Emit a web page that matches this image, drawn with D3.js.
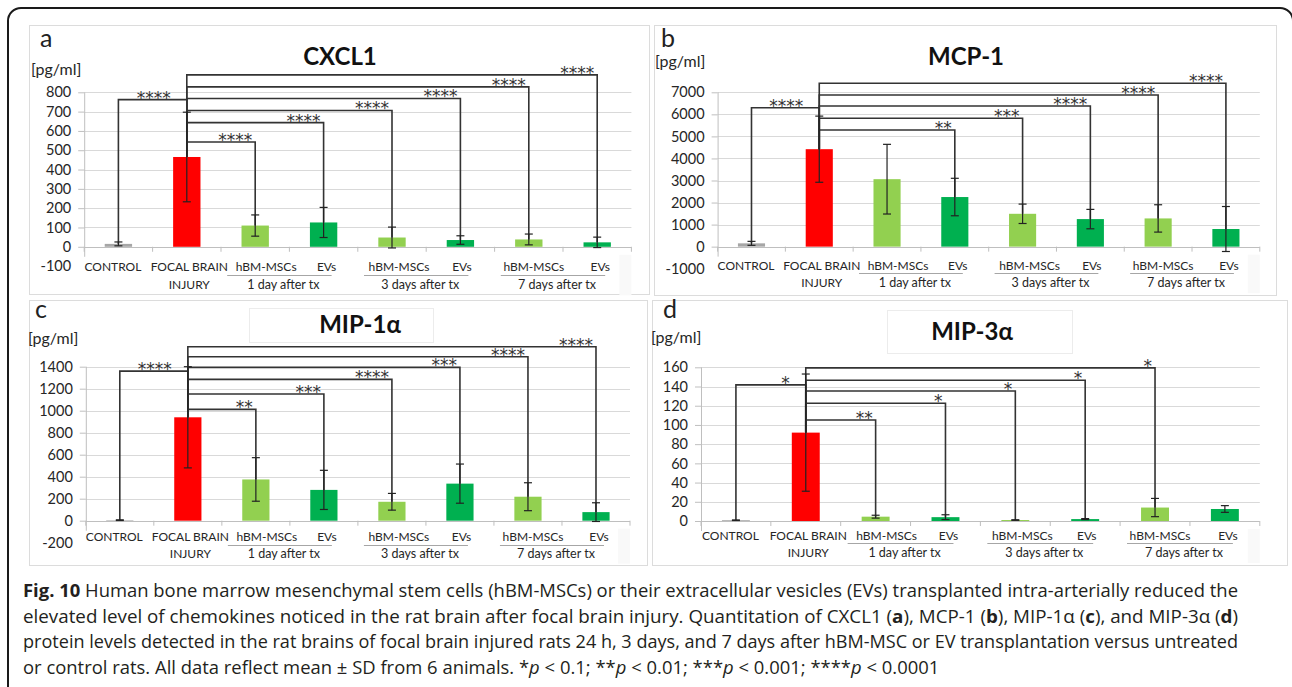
<!DOCTYPE html>
<html><head><meta charset="utf-8">
<script src="https://cdn.jsdelivr.net/npm/d3@7"></script>
<style>
body{margin:0;background:#fff}
svg{display:block}
.ch text{font-family:Lato, Carlito, sans-serif}
.ch text.star{font-family:"DejaVu Sans", sans-serif}
.cap{font-family:"Open Sans", sans-serif}
</style>
</head><body>
<svg id="c" width="1292" height="687"></svg>
<script>
// ---------- data ----------
const categoryLabels = ["CONTROL", "FOCAL BRAIN\nINJURY", "hBM-MSCs", "EVs", "hBM-MSCs", "EVs", "hBM-MSCs", "EVs"];
const groupLabels = ["1 day after tx", "3 days after tx", "7 days after tx"];
const groupMembers = [[2, 3], [4, 5], [6, 7]];

const cxcl1Ticks = [-100, 0, 100, 200, 300, 400, 500, 600, 700, 800];
const cxcl1Mean = [15, 465, 110, 126, 48, 35, 38, 23];
const cxcl1SD = [10, 232, 55, 78, 54, 22, 28, 27];
const cxcl1Targets = [0, 2, 3, 4, 5, 6, 7];
const cxcl1Heights = [762, 543, 643, 706, 768, 828, 890];
const cxcl1Stars = ["****", "****", "****", "****", "****", "****", "****"];

const mcp1Ticks = [-1000, 0, 1000, 2000, 3000, 4000, 5000, 6000, 7000];
const mcp1Mean = [150, 4420, 3060, 2250, 1490, 1250, 1280, 800];
const mcp1SD = [90, 1500, 1580, 850, 440, 440, 620, 1020];
const mcp1Targets = [0, 3, 4, 5, 6, 7];
const mcp1Heights = [6300, 5290, 5820, 6380, 6880, 7410];
const mcp1Stars = ["****", "**", "***", "****", "****", "****"];

const mip1aTicks = [-200, 0, 200, 400, 600, 800, 1000, 1200, 1400];
const mip1aMean = [5, 940, 375, 280, 172, 337, 218, 78];
const mip1aSD = [3, 460, 198, 178, 76, 178, 127, 85];
const mip1aTargets = [0, 2, 3, 4, 5, 6, 7];
const mip1aHeights = [1360, 1012, 1152, 1285, 1394, 1491, 1582];
const mip1aStars = ["****", "**", "***", "****", "***", "****", "****"];

const mip3aTicks = [0, 20, 40, 60, 80, 100, 120, 140, 160];
const mip3aMean = [0.8, 92, 4.5, 4, 1, 2, 14, 12.5];
const mip3aSD = [0.3, 61, 1.5, 2.5, 0.3, 0.5, 9.5, 3.5];
const mip3aTargets = [0, 2, 3, 4, 5, 6];
const mip3aHeights = [141.7, 105.2, 122.6, 135.4, 146.5, 159.4];
const mip3aStars = ["*", "**", "*", "*", "*", "*"];

const panelLetters = ["a", "b", "c", "d"];
const panelTitles = ["CXCL1", "MCP-1", "MIP-1α", "MIP-3α"];
const unitLabel = "[pg/ml]";

// ---------- styles / layout ----------
const barColors = ["#a6a6a6", "#ff0000", "#92d050", "#00b050", "#92d050", "#00b050", "#92d050", "#00b050"];
const labelShift = [-5.5, 2.5, 11, 3, 7, 1.5, 5, 3];
const focalIndex = 1;

const panels = [
  {mean: cxcl1Mean, sd: cxcl1SD, tg: cxcl1Targets, h: cxcl1Heights, st: cxcl1Stars, ticks: cxcl1Ticks,
   box: [29, 25, 649, 294], xr: [84.2, 631.4], yr: [266.1, 92.3],
   letter: [40, 47], unit: [31, 75], title: [340, 65], tbox: null, lab: [24.5, 42.5, 28]},
  {mean: mcp1Mean, sd: mcp1SD, tg: mcp1Targets, h: mcp1Heights, st: mcp1Stars, ticks: mcp1Ticks,
   box: [654, 25, 1276, 295], xr: [717.6, 1259.8], yr: [268.7, 92.3],
   letter: [661, 47], unit: [655, 67], title: [966, 65], tbox: null, lab: [23.5, 40.5, 26.6]},
  {mean: mip1aMean, sd: mip1aSD, tg: mip1aTargets, h: mip1aHeights, st: mip1aStars, ticks: mip1aTicks,
   box: [29, 300, 647, 565], xr: [85.8, 630], yr: [542.7, 366.7],
   letter: [35, 318], unit: [28, 344], title: [360, 333], tbox: [249, 308, 433, 342], lab: [20.5, 37, 24.5]},
  {mean: mip3aMean, sd: mip3aSD, tg: mip3aTargets, h: mip3aHeights, st: mip3aStars, ticks: mip3aTicks,
   box: [652, 300, 1287, 565], xr: [701, 1259.8], yr: [521, 367.3],
   letter: [663, 318], unit: [651, 343], title: [972, 340], tbox: [887, 310, 1072, 353], lab: [19, 36, 22]}
];

const svg = d3.select("#c");
svg.append("rect").attr("width", 1292).attr("height", 687).attr("fill", "#fff");
svg.append("rect").attr("x", 8).attr("y", 8).attr("width", 1285).attr("height", 720)
  .attr("rx", 13).attr("fill", "none").attr("stroke", "#1a1a1a").attr("stroke-width", 2);

const chartG = svg.append("g").attr("class", "ch");

panels.forEach((p, pi) => {
  const g = chartG.append("g");
  const [bx0, by0, bx1, by1] = p.box;
  g.append("rect").attr("x", bx0 + 0.5).attr("y", by0 + 0.5).attr("width", bx1 - bx0).attr("height", by1 - by0)
    .attr("fill", "#fff").attr("stroke", "#dcdcdc").attr("stroke-width", 1);

  const x = d3.scaleBand().domain(d3.range(categoryLabels.length)).range(p.xr).paddingInner(0.6).paddingOuter(0.3);
  const cx = i => x(i) + x.bandwidth() / 2;
  const yDom = [d3.min(p.ticks), d3.max(p.ticks)];
  const y = d3.scaleLinear().domain(yDom).range(p.yr);
  const x0 = p.xr[0], x1 = p.xr[1];
  const y0 = y(0);
  const step = x.step();

  // label area background (faint strip at right end)
  g.append("rect").attr("x", x1 - 12).attr("y", y0 + 8).attr("width", 12)
    .attr("height", p.lab[1] - 2).attr("fill", "#f9f9f9");

  // title box
  if (p.tbox) {
    g.append("rect").attr("x", p.tbox[0] + 0.5).attr("y", p.tbox[1] + 0.5)
      .attr("width", p.tbox[2] - p.tbox[0]).attr("height", p.tbox[3] - p.tbox[1])
      .attr("fill", "#fff").attr("stroke", "#ececec");
  }

  // gridlines
  g.append("g").selectAll("line").data(p.ticks.filter(t => t > 0)).join("line")
    .attr("x1", x0).attr("x2", x1).attr("y1", d => Math.round(y(d)) + 0.5).attr("y2", d => Math.round(y(d)) + 0.5)
    .attr("stroke", "#d9d9d9").attr("stroke-width", 1);

  // y axis
  const ax = g.append("g").attr("transform", `translate(${x0},0)`)
    .call(d3.axisLeft(y).tickValues(p.ticks).tickSize(6).tickPadding(7).tickFormat(d => String(d)));
  ax.select(".domain").remove();
  ax.selectAll(".tick line").attr("stroke", "#bfbfbf").attr("opacity", d => d < 0 ? 0 : 1);
  ax.selectAll(".tick text").attr("fill", "#262626").style("font-size", "14.5px").style("font-family", "Lato, sans-serif");
  g.append("line").attr("x1", x0 + 0.5).attr("x2", x0 + 0.5).attr("y1", y(d3.max(p.ticks))).attr("y2", y0 + 10)
    .attr("stroke", "#bfbfbf");

  // zero axis + category ticks
  g.append("line").attr("x1", x0).attr("x2", x1).attr("y1", Math.round(y0) + 0.5).attr("y2", Math.round(y0) + 0.5)
    .attr("stroke", "#bfbfbf");
  g.append("g").selectAll("line").data(d3.range(categoryLabels.length + 1)).join("line")
    .attr("x1", i => x0 + i * step).attr("x2", i => x0 + i * step)
    .attr("y1", y0).attr("y2", y0 + 5).attr("stroke", "#bfbfbf");

  // bars
  g.append("g").selectAll("rect").data(p.mean).join("rect")
    .attr("x", (d, i) => x(i)).attr("width", x.bandwidth())
    .attr("y", d => y(d)).attr("height", d => y0 - y(d))
    .attr("fill", (d, i) => barColors[i]);

  // significance brackets
  const fx = cx(focalIndex), fy = y(p.mean[focalIndex]);
  p.tg.forEach((t, k) => {
    const hy = y(p.h[k]);
    const tx = cx(t);
    g.append("path").attr("d", `M${fx},${fy}V${hy}H${tx}V${y(p.mean[t])}`)
      .attr("fill", "none").attr("stroke", "#333").attr("stroke-width", 1.6);
    const sx = t === 0 ? fx - 16 : tx - 3;
    g.append("text").attr("class", "star").attr("x", sx).attr("y", hy + 4).attr("text-anchor", "end")
      .attr("fill", "#333").style("font-size", "17px").text(p.st[k]);
  });

  // error bars
  const eb = g.append("g").attr("stroke", "#222").attr("stroke-width", 1.2);
  p.mean.forEach((m, i) => {
    const c = cx(i), lo = y(m - p.sd[i]), hi = y(m + p.sd[i]);
    eb.append("line").attr("x1", c).attr("x2", c).attr("y1", lo).attr("y2", hi);
    eb.append("line").attr("x1", c - 4).attr("x2", c + 4).attr("y1", lo).attr("y2", lo);
    eb.append("line").attr("x1", c - 4).attr("x2", c + 4).attr("y1", hi).attr("y2", hi);
  });

  // category labels
  categoryLabels.forEach((lab, i) => {
    const parts = lab.split("\n");
    parts.forEach((pt, j) => {
      g.append("text").attr("x", cx(i) + labelShift[i]).attr("y", y0 + p.lab[j]).attr("text-anchor", "middle")
        .attr("fill", "#262626").style("font-size", "12px").text(pt);
    });
  });
  groupMembers.forEach((gm, gi) => {
    const c1 = cx(gm[0]), c2 = cx(gm[1]);
    g.append("line").attr("x1", c1 - 28).attr("x2", c2 + 8)
      .attr("y1", Math.round(y0 + p.lab[2]) + 0.5).attr("y2", Math.round(y0 + p.lab[2]) + 0.5)
      .attr("stroke", "#a6a6a6");
    g.append("text").attr("x", (c1 + c2) / 2 - 6).attr("y", y0 + p.lab[1]).attr("text-anchor", "middle")
      .attr("fill", "#262626").style("font-size", "12.5px").text(groupLabels[gi]);
  });

  // texts
  g.append("text").attr("x", p.letter[0]).attr("y", p.letter[1]).attr("fill", "#222")
    .style("font-size", "25px").text(panelLetters[pi]);
  g.append("text").attr("x", p.unit[0]).attr("y", p.unit[1]).attr("fill", "#262626")
    .style("font-size", "16px").text(unitLabel);
  g.append("text").attr("x", p.title[0]).attr("y", p.title[1]).attr("text-anchor", "middle")
    .attr("fill", "#111").style("font-size", "24px").style("font-weight", "bold").text(panelTitles[pi]);
});

// ---------- caption ----------
const captionLines = [
  [{t: "Fig. 10", b: 1}, {t: " Human bone marrow mesenchymal stem cells (hBM-MSCs) or their extracellular vesicles (EVs) transplanted intra-arterially reduced the"}],
  [{t: "elevated level of chemokines noticed in the rat brain after focal brain injury. Quantitation of CXCL1 ("}, {t: "a", b: 1}, {t: "), MCP-1 ("}, {t: "b", b: 1}, {t: "), MIP-1α ("}, {t: "c", b: 1}, {t: "), and MIP-3α ("}, {t: "d", b: 1}, {t: ")"}],
  [{t: "protein levels detected in the rat brains of focal brain injured rats 24 h, 3 days, and 7 days after hBM-MSC or EV transplantation versus untreated"}],
  [{t: "or control rats. All data reflect mean ± SD from 6 animals. *"}, {t: "p", i: 1}, {t: " < 0.1; **"}, {t: "p", i: 1}, {t: " < 0.01; ***"}, {t: "p", i: 1}, {t: " < 0.001; ****"}, {t: "p", i: 1}, {t: " < 0.0001"}]
];
const capBase = [597, 623, 648, 673.5];
const capX = 23, capW = 1215;
const capTexts = captionLines.map((ln, li) => {
  const t = svg.append("text").attr("class", "cap").attr("x", capX).attr("y", capBase[li])
    .attr("fill", "#231f20").style("font-size", "18px");
  ln.forEach(s => {
    const ts = t.append("tspan").text(s.t);
    if (s.b) ts.style("font-weight", "bold");
    if (s.i) ts.style("font-style", "italic");
  });
  return t;
});
const natural = capTexts.map(t => t.node().getComputedTextLength());
const factor = capW / natural[0];
capTexts.forEach((t, i) => {
  const L = i < 3 ? capW : natural[i] * factor;
  t.attr("textLength", L).attr("lengthAdjust", "spacingAndGlyphs");
});
</script>
</body></html>
